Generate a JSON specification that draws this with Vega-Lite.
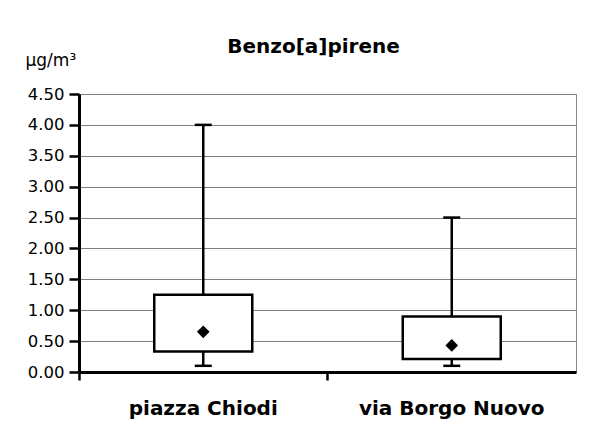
{
  "$schema": "https://vega.github.io/schema/vega-lite/v6.json",
  "autosize": "none",
  "width": 497,
  "height": 278,
  "padding": {"left": 79, "top": 94, "right": 21, "bottom": 76},
  "background": "white",
  "title": {
    "text": "Benzo[a]pirene",
    "font": "DejaVu Sans",
    "fontSize": 20,
    "fontWeight": "bold",
    "color": "black",
    "anchor": "middle",
    "dx": -14,
    "offset": 0,
    "dy": 6
  },
  "data": {
    "values": [
      {"site": "piazza Chiodi", "min": 0.1, "q1": 0.33, "mean": 0.65, "q3": 1.25, "max": 4.0},
      {"site": "via Borgo Nuovo", "min": 0.1, "q1": 0.21, "mean": 0.43, "q3": 0.9, "max": 2.5}
    ]
  },
  "config": {
    "view": {"stroke": "#888888", "strokeWidth": 1},
    "axis": {"labelFont": "DejaVu Sans", "titleFont": "DejaVu Sans", "labelColor": "black", "titleColor": "black"},
    "axisY": {
      "title": "μg/m³",
      "titleAngle": 0,
      "titleFontSize": 17,
      "titleFontWeight": "normal",
      "titleAnchor": "end",
      "titleAlign": "left",
      "titleBaseline": "alphabetic",
      "titleX": -54,
      "titleY": -29,
      "tickCount": 10,
      "format": ".2f",
      "labelOverlap": false,
      "labelFontSize": 16.5,
      "labelPadding": 5,
      "domainColor": "black",
      "domainWidth": 3,
      "tickColor": "black",
      "tickWidth": 2.5,
      "tickSize": 10,
      "gridColor": "#808080",
      "gridWidth": 1,
      "gridOpacity": 1
    }
  },
  "encoding": {
    "x": {
      "field": "site",
      "type": "nominal",
      "sort": null,
      "scale": {"paddingInner": 0, "paddingOuter": 0},
      "axis": {
        "title": null,
        "labelAngle": 0,
        "labelFontSize": 20,
        "labelFontWeight": "bold",
        "labelPadding": 18,
        "labelLimit": 0,
        "domainColor": "black",
        "domainWidth": 3,
        "tickColor": "black",
        "tickWidth": 2.5,
        "tickSize": 8,
        "bandPosition": 0,
        "grid": false
      }
    }
  },
  "layer": [
    {
      "mark": {"type": "rule", "color": "black", "strokeWidth": 2.5},
      "encoding": {
        "y": {
          "field": "min",
          "type": "quantitative",
          "scale": {"domain": [0, 4.5], "nice": false},
          "axis": {"title": "μg/m³", "values": [0, 0.5, 1, 1.5, 2, 2.5, 3, 3.5, 4, 4.5], "format": ".2f", "labelOverlap": false}
        },
        "y2": {"field": "max"}
      }
    },
    {
      "mark": {"type": "tick", "color": "black", "thickness": 2.5, "size": 17, "opacity": 1},
      "encoding": {"y": {"field": "min", "type": "quantitative", "axis": {"title": "μg/m³", "values": [0, 0.5, 1, 1.5, 2, 2.5, 3, 3.5, 4, 4.5], "format": ".2f", "labelOverlap": false}}}
    },
    {
      "mark": {"type": "tick", "color": "black", "thickness": 2.5, "size": 17, "opacity": 1},
      "encoding": {"y": {"field": "max", "type": "quantitative", "axis": {"title": "μg/m³", "values": [0, 0.5, 1, 1.5, 2, 2.5, 3, 3.5, 4, 4.5], "format": ".2f", "labelOverlap": false}}}
    },
    {
      "mark": {"type": "bar", "size": 98, "fill": "white", "stroke": "black", "strokeWidth": 2.5},
      "encoding": {
        "y": {"field": "q1", "type": "quantitative", "axis": {"title": "μg/m³", "values": [0, 0.5, 1, 1.5, 2, 2.5, 3, 3.5, 4, 4.5], "format": ".2f", "labelOverlap": false}},
        "y2": {"field": "q3"}
      }
    },
    {
      "mark": {"type": "point", "shape": "diamond", "filled": true, "color": "black", "size": 160, "opacity": 1},
      "encoding": {"y": {"field": "mean", "type": "quantitative", "axis": {"title": "μg/m³", "values": [0, 0.5, 1, 1.5, 2, 2.5, 3, 3.5, 4, 4.5], "format": ".2f", "labelOverlap": false}}}
    }
  ]
}
